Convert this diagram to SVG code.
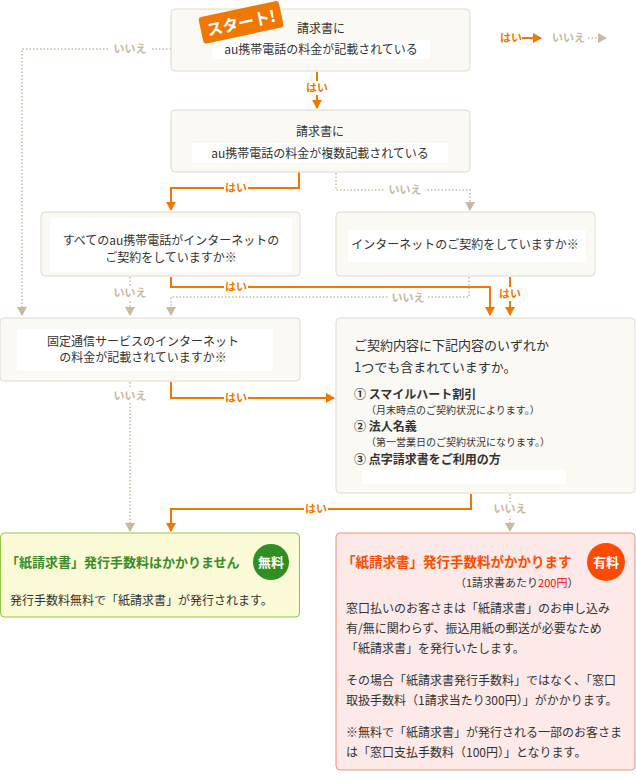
<svg xmlns="http://www.w3.org/2000/svg" width="636" height="780" viewBox="0 0 636 780">
<style>
text{font-family:"Noto Sans CJK JP","Noto Sans",sans-serif;font-size:12px;fill:#333}
.box{fill:#fbf9f3;stroke:#e2dacd;stroke-width:1}
.in{fill:#fff}
.y{stroke:#f07800;stroke-width:2;fill:none}
.n{stroke:#c9b99f;stroke-width:1.5;fill:none;stroke-dasharray:1.5 2}
.yl{fill:#f07800;font-weight:bold;font-size:11px}
.nl{fill:#c9b99f;font-weight:bold;font-size:11px}
.c{text-anchor:middle}
.b{font-weight:bold}
</style>
<defs>
<marker id="ay" markerWidth="10" markerHeight="10" refX="8" refY="5" orient="auto" markerUnits="userSpaceOnUse"><path d="M0,0 L9,5 L0,10 Z" fill="#f07800"/></marker>
<marker id="an" markerWidth="10" markerHeight="10" refX="8" refY="5" orient="auto" markerUnits="userSpaceOnUse"><path d="M0,0 L9,5 L0,10 Z" fill="#c9b99f"/></marker>
</defs>
<g id="legend">
<text x="500" y="42" class="yl">はい</text>
<path d="M522,38 H541" class="y" marker-end="url(#ay)"/>
<text x="552" y="42" class="nl">いいえ</text>
<path d="M588,38 H606" class="n" marker-end="url(#an)"/>
</g>
<g id="connectors">
<path d="M317,72 V108" class="y" marker-end="url(#ay)"/>
<rect x="305" y="81" width="24" height="14" fill="#fff"/><text x="317" y="92" class="yl c">はい</text>
<path d="M171,49 H22 V315" class="n" marker-end="url(#an)"/>
<rect x="110" y="43" width="40" height="14" fill="#fff"/><text x="130" y="53" class="nl c">いいえ</text>
<path d="M299,172 V188 H171 V210" class="y" marker-end="url(#ay)"/>
<rect x="224" y="181" width="24" height="14" fill="#fff"/><text x="236" y="192" class="yl c">はい</text>
<path d="M336,173 V190 H470 V210" class="n" marker-end="url(#an)"/>
<rect x="385" y="183" width="40" height="14" fill="#fff"/><text x="405" y="194" class="nl c">いいえ</text>
<path d="M130,277 V315" class="n" marker-end="url(#an)"/>
<rect x="112" y="286" width="36" height="14" fill="#fff"/><text x="130" y="297" class="nl c">いいえ</text>
<path d="M469,277 V297 H171 V315" class="n" marker-end="url(#an)"/>
<path d="M171,277 V287 H490 V315" class="y" marker-end="url(#ay)"/>
<rect x="224" y="280" width="24" height="14" fill="#fff"/><text x="236" y="291" class="yl c">はい</text>
<rect x="388" y="291" width="40" height="14" fill="#fff"/><text x="408" y="302" class="nl c">いいえ</text>
<path d="M510,277 V315" class="y" marker-end="url(#ay)"/>
<rect x="498" y="287" width="24" height="14" fill="#fff"/><text x="510" y="298" class="yl c">はい</text>
<path d="M130,382 V531" class="n" marker-end="url(#an)"/>
<rect x="112" y="389" width="36" height="14" fill="#fff"/><text x="130" y="400" class="nl c">いいえ</text>
<path d="M171,382 V398 H334" class="y" marker-end="url(#ay)"/>
<rect x="224" y="391" width="24" height="14" fill="#fff"/><text x="236" y="402" class="yl c">はい</text>
<path d="M471,494 V509 H171 V531" class="y" marker-end="url(#ay)"/>
<rect x="304" y="502" width="24" height="14" fill="#fff"/><text x="316" y="513" class="yl c">はい</text>
<path d="M510,494 V531" class="n" marker-end="url(#an)"/>
<rect x="492" y="502" width="36" height="14" fill="#fff"/><text x="510" y="513" class="nl c">いいえ</text>
</g>
<g id="n1">
<rect x="171" y="9" width="299" height="62" rx="4" class="box"/>
<rect x="212" y="40" width="218" height="19" class="in"/>
<text x="321" y="33" class="c">請求書に</text>
<text x="321" y="54" class="c">au携帯電話の料金が記載されている</text>
<g transform="rotate(-12 240 22)"><rect x="200" y="9" width="82" height="27" rx="3" fill="#f07800"/><text x="241" y="29" class="c b" style="fill:#fff;font-size:16px">スタート!</text></g>
</g>
<g id="n2">
<rect x="171" y="110" width="299" height="62" rx="4" class="box"/>
<rect x="192" y="143" width="256" height="20" class="in"/>
<text x="320" y="136" class="c">請求書に</text>
<text x="320" y="158" class="c">au携帯電話の料金が複数記載されている</text>
</g>
<g id="n3">
<rect x="41" y="212" width="259" height="64" rx="4" class="box"/>
<rect x="50" y="218" width="242" height="54" class="in"/>
<text x="171" y="245" class="c">すべてのau携帯電話がインターネットの</text>
<text x="171" y="262" class="c">ご契約をしていますか※</text>
</g>
<g id="n4">
<rect x="336" y="212" width="259" height="64" rx="4" class="box"/>
<rect x="348" y="230" width="238" height="32" class="in"/>
<text x="465" y="249" class="c">インターネットのご契約をしていますか※</text>
</g>
<g id="n5">
<rect x="0" y="318" width="300" height="63" rx="4" class="box"/>
<rect x="17" y="329" width="256" height="42" class="in"/>
<text x="143" y="346" class="c">固定通信サービスのインターネット</text>
<text x="143" y="362" class="c">の料金が記載されていますか※</text>
</g>
<g id="n6">
<rect x="336" y="318" width="299" height="175" rx="4" class="box"/>
<rect x="362" y="470" width="204" height="14" class="in"/>
<text x="354" y="350" style="font-size:13px">ご契約内容に下記内容のいずれか</text>
<text x="354" y="372" style="font-size:13px">1つでも含まれていますか。</text>
<text x="354" y="399" class="b">① スマイルハート割引</text>
<text x="366" y="414" style="font-size:10px">（月末時点のご契約状況によります。）</text>
<text x="354" y="431" class="b">② 法人名義</text>
<text x="366" y="446" style="font-size:10px">（第一営業日のご契約状況になります。）</text>
<text x="354" y="464" class="b">③ 点字請求書をご利用の方</text>
</g>
<g id="free">
<rect x="0.5" y="533" width="299" height="84" rx="4" fill="#fafad6" stroke="#8fc73e"/>
<text x="6" y="567" class="b" style="fill:#3a8c28;font-size:13px">「紙請求書」発行手数料はかかりません</text>
<circle cx="271" cy="562" r="18" fill="#2f8f22"/>
<text x="271" y="567" class="c b" style="fill:#fff;font-size:13px">無料</text>
<text x="10" y="605">発行手数料無料で「紙請求書」が発行されます。</text>
</g>
<g id="paid">
<rect x="336" y="533" width="299" height="237" rx="4" fill="#fde9e8" stroke="#f0907a"/>
<text x="342" y="567" class="b" style="fill:#ff4d00;font-size:13.5px">「紙請求書」発行手数料がかかります</text>
<circle cx="606" cy="562" r="19" fill="#ff4a00"/>
<text x="606" y="567" class="c b" style="fill:#fff;font-size:13px">有料</text>
<text x="455" y="587" style="font-size:11px">（1請求書あたり<tspan style="fill:#f00">200円</tspan>）</text>
<text x="346" y="613">窓口払いのお客さまは「紙請求書」のお申し込み</text>
<text x="346" y="633">有/無に関わらず、振込用紙の郵送が必要なため</text>
<text x="346" y="653">「紙請求書」を発行いたします。</text>
<text x="346" y="685">その場合「紙請求書発行手数料」ではなく、「窓口</text>
<text x="346" y="705">取扱手数料（1請求当たり300円）」がかかります。</text>
<text x="346" y="737">※無料で「紙請求書」が発行される一部のお客さま</text>
<text x="346" y="757">は「窓口支払手数料（100円）」となります。</text>
</g>
</svg>
